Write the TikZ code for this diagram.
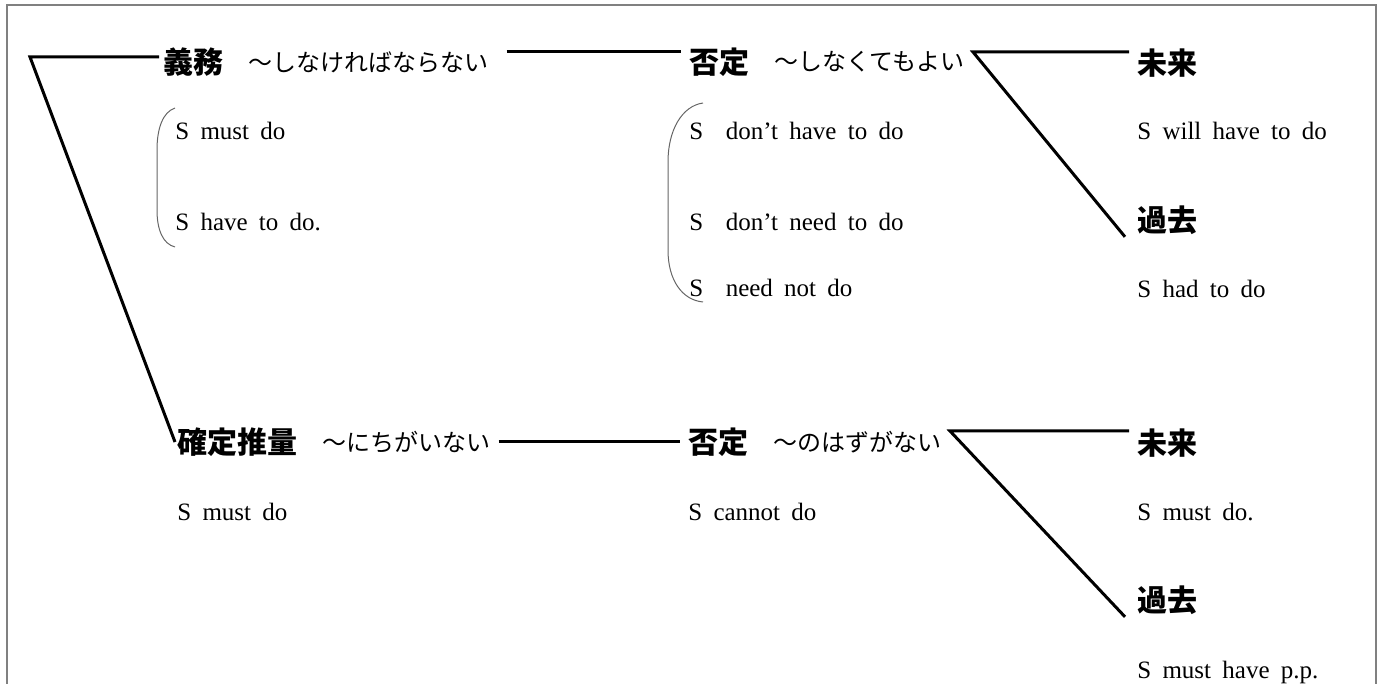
\documentclass[tikz,border=0pt]{standalone}
\usepackage{fontspec}
\setmainfont{Liberation Serif}
\newfontfamily\jp{Noto Sans CJK JP}
\usetikzlibrary{positioning}

\begin{document}
\begin{tikzpicture}[x=0.5pt,y=-0.5pt,
  head/.style={font=\jp\bfseries\fontsize{15}{17}\selectfont,inner sep=1pt,anchor=west},
  gloss/.style={font=\jp\fontsize{12}{14}\selectfont,inner sep=1pt},
  eg/.style={font={\fontsize{12.5}{15}\selectfont\spaceskip 0.45em\relax},inner sep=1pt,anchor=base west},
  branch/.style={line width=1.5pt,shorten <=3pt,shorten >=3pt},
  paren/.style={draw=black!60,line width=0.5pt},
  frame/.style={draw=black!50,line width=1pt}]
\useasboundingbox (0,0) rectangle (1383,684);
\draw[frame] (7,684) -- (7,5) -- (1376,5) -- (1376,684);

% upper half
\node[head] (gimu) at (161,62) {義務};
\node[gloss,right=10pt of gimu] (gimuG) {～しなければならない};
\node[head] (hitei1) at (687,62) {否定};
\node[gloss,right=10pt of hitei1] (hitei1G) {～しなくてもよい};
\node[head] (mirai1) at (1135,63) {未来};
\node[head] (kako1) at (1135,220) {過去};

\node[eg] (gimuA) at (173,140) {S must do};
\node[eg] (gimuB) at (173,231) {S have to do.};
\node[eg] (hitei1A) at (687,140) {S\hspace{0.9em}don’t have to do};
\node[eg] (hitei1B) at (687,231) {S\hspace{0.9em}don’t need to do};
\node[eg] (hitei1C) at (687,297) {S\hspace{0.9em}need not do};
\node[eg] (mirai1A) at (1135,140) {S will have to do};
\node[eg] (kako1A) at (1135,298) {S had to do};

% lower half
\node[head] (kakutei) at (175,442) {確定推量};
\node[gloss,right=10pt of kakutei] (kakuteiG) {～にちがいない};
\node[head] (hitei2) at (686,442) {否定};
\node[gloss,right=10pt of hitei2] (hitei2G) {～のはずがない};
\node[head] (mirai2) at (1135,443) {未来};
\node[head] (kako2) at (1135,600) {過去};

\node[eg] (kakuteiA) at (175,521) {S must do};
\node[eg] (hitei2A) at (686,520) {S cannot do};
\node[eg] (mirai2A) at (1135,520) {S must do.};
\node[eg] (kako2A) at (1135,678) {S must have p.p.};

% branches
\coordinate (rootJ) at (30,57);
\coordinate (negJ1) at (973,52);
\coordinate (negJ2) at (950,431);
\draw[branch,shorten <=1pt,shorten >=0pt] (gimu.west |- rootJ) -- (rootJ) -- (kakutei.west);
\draw[branch,shorten <=8pt] (gimuG.east |- negJ1) -- (hitei1.west |- negJ1);
\draw[branch] (kakuteiG.east) -- (hitei2.west);
\draw[branch,shorten >=0pt] (mirai1.west |- negJ1) -- (negJ1) -- ([xshift=-5pt]kako1.south west);
\draw[branch,shorten >=0pt] (mirai2.west |- negJ2) -- (negJ2) -- ([xshift=-5pt]kako2.south west);

% brackets
\draw[paren] (175,108) .. controls (163,112) and (157,128) .. (157,150) -- (157,210)
  .. controls (157,230) and (163,244) .. (175,247);
\draw[paren] (703,103) .. controls (682,106) and (668,130) .. (668,162) -- (668,250)
  .. controls (668,280) and (682,300) .. (703,302);
\end{tikzpicture}
\end{document}
